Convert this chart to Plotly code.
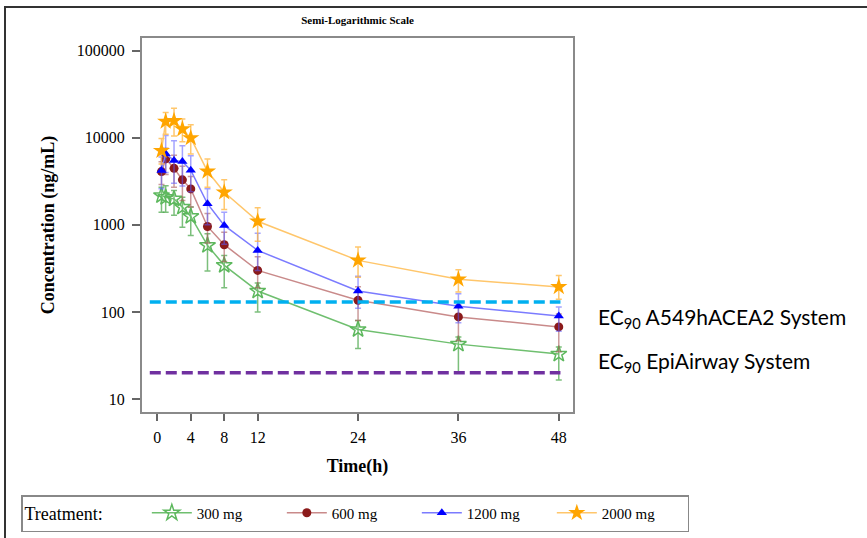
import plotly.graph_objects as go

# ---- data ----
time_h = [0.5, 1, 2, 3, 4, 6, 8, 12, 24, 36, 48]

dose_labels = ["300 mg", "600 mg", "1200 mg", "2000 mg"]

mean_300 = [2170, 2070, 1990, 1600, 1250, 581, 343, 174, 62.9, 42.7, 32.8]
upper_300 = [2700, 2820, 2480, 2080, 1600, 790, 445, 215, 80, 51.7, 39.7]
lower_300 = [1400, 1400, 1290, 940, 755, 295, 190, 100, 38, 20.5, 16.5]

mean_600 = [4090, 5720, 4460, 3290, 2590, 959, 592, 300, 136, 87.7, 67.3]
upper_600 = [5300, 7600, 6300, 4700, 3600, 1350, 820, 430, 195, 120, 95]
lower_600 = [2900, 3800, 2700, 1900, 1600, 620, 380, 190, 80, 47, 35]

mean_1200 = [4200, 6570, 5470, 5330, 4250, 1750, 985, 509, 174, 116, 90]
upper_1200 = [6000, 10600, 9270, 8100, 6200, 2600, 1400, 800, 257, 162, 114]
lower_1200 = [2600, 4000, 3000, 2800, 2400, 1000, 600, 300, 110, 75, 60]

mean_2000 = [7100, 15400, 15700, 12600, 9950, 4120, 2370, 1100, 391, 237, 194]
upper_2000 = [9800, 19500, 21900, 16400, 14100, 5720, 3290, 1570, 556, 306, 263]
lower_2000 = [5000, 11000, 10500, 9000, 6500, 2700, 1500, 650, 250, 170, 140]

ec90_a549 = 130
ec90_epi = 20
ec90_x = [-0.9, 48.2]

x_ticks = [0, 4, 8, 12, 24, 36, 48]
y_ticks = [10, 100, 1000, 10000, 100000]
y_tick_text = ["10", "100", "1000", "10000", "100000"]

# ---- styles ----
series = [
    (dose_labels[0], mean_300, upper_300, lower_300,
     dict(symbol="star-open", size=12, color="#5DB85D", line=dict(color="#5DB85D", width=1.5)),
     "#6FBF6F", "rgba(80,170,80,0.75)"),
    (dose_labels[1], mean_600, upper_600, lower_600,
     dict(symbol="circle", size=9, color="#8B1A1A", line=dict(color="#8B1A1A", width=0)),
     "#C98A8A", "rgba(170,90,90,0.6)"),
    (dose_labels[2], mean_1200, upper_1200, lower_1200,
     dict(symbol="triangle-up", size=9, color="#0000FF", line=dict(color="#0000FF", width=0)),
     "#7B7BFF", "rgba(90,90,255,0.55)"),
    (dose_labels[3], mean_2000, upper_2000, lower_2000,
     dict(symbol="star", size=13, color="#FFA500", line=dict(color="#FFA500", width=0)),
     "#FFC66B", "rgba(255,180,60,0.75)"),
]

fig = go.Figure()

for name, m, up, lo, mk, lcol, ecol in series:
    fig.add_trace(go.Scatter(
        x=time_h, y=m, name=name, mode="lines+markers",
        line=dict(color=lcol, width=1.5),
        marker=mk,
        error_y=dict(type="data", symmetric=False,
                     array=[u - v for u, v in zip(up, m)],
                     arrayminus=[v - l for v, l in zip(m, lo)],
                     color=ecol, thickness=1.5, width=3),
    ))

fig.add_trace(go.Scatter(x=ec90_x, y=[ec90_a549] * 2, mode="lines",
                         line=dict(color="#00B0F0", width=3.5, dash="11px,5px"),
                         showlegend=False, hoverinfo="skip"))
fig.add_trace(go.Scatter(x=ec90_x, y=[ec90_epi] * 2, mode="lines",
                         line=dict(color="#7030A0", width=3.5, dash="11px,5px"),
                         showlegend=False, hoverinfo="skip"))

serif = "Liberation Serif"

fig.update_layout(
    width=867, height=538,
    margin=dict(l=142, r=294, t=38, b=126, autoexpand=False),
    paper_bgcolor="white", plot_bgcolor="white",
    font=dict(family=serif, color="black"),
    title=dict(text="<b>Semi-Logarithmic Scale</b>", x=(142 + 573) / 2 / 867, xanchor="center",
               y=1 - 20 / 538, yanchor="middle", font=dict(family=serif, size=11)),
    showlegend=True,
    legend=dict(orientation="h", x=(689 - 142) / 431, xanchor="right",
                y=(412 - 532) / 374, yanchor="bottom",
                bordercolor="#888888", borderwidth=1.5,
                title=dict(text="Treatment:" + "&nbsp;" * 8,
                           font=dict(family=serif, size=18), side="left"),
                font=dict(family=serif, size=15),
                entrywidth=80, tracegroupgap=0, itemwidth=40),
    shapes=[dict(type="rect", xref="paper", yref="paper",
                 x0=(5 - 142) / 431, x1=(880 - 142) / 431,
                 y0=(412 - 560) / 374, y1=(412 - 7) / 374,
                 line=dict(color="#333333", width=2))],
    annotations=[
        dict(text="EC<sub>90</sub> A549hACEA2 System", xref="paper", yref="paper",
             x=(596 - 142) / 431, y=(412 - 318) / 374, xanchor="left", yanchor="middle",
             showarrow=False, font=dict(family="Lato", size=21, color="black")),
        dict(text="EC<sub>90</sub> EpiAirway System", xref="paper", yref="paper",
             x=(596 - 142) / 431, y=(412 - 362) / 374, xanchor="left", yanchor="middle",
             showarrow=False, font=dict(family="Lato", size=21, color="black")),
    ],
)

fig.update_xaxes(
    range=[-1.83, 49.7], tickvals=x_ticks, ticktext=[str(v) for v in x_ticks],
    ticks="outside", ticklen=7, tickcolor="#666666", tickwidth=1.5,
    showline=True, linecolor="#8a8a8a", linewidth=2, mirror=True,
    showgrid=False, zeroline=False, ticklabelstandoff=3,
    tickfont=dict(family=serif, size=16),
    title=dict(text="<b>Time(h)</b>", font=dict(family=serif, size=18), standoff=14),
)
fig.update_yaxes(
    type="log", range=[0.851, 5.146], tickvals=y_ticks, ticktext=y_tick_text,
    ticks="outside", ticklen=8, tickcolor="#666666", tickwidth=1.5,
    showline=True, linecolor="#8a8a8a", linewidth=2, mirror=True,
    showgrid=False, zeroline=False, ticklabelstandoff=4,
    tickfont=dict(family=serif, size=16),
    title=dict(text="<b>Concentration (ng/mL)</b>", font=dict(family=serif, size=18), standoff=17),
)

fig.write_html("out.html", post_script="document.body.style.margin='0';",
               config={"displayModeBar": False})
